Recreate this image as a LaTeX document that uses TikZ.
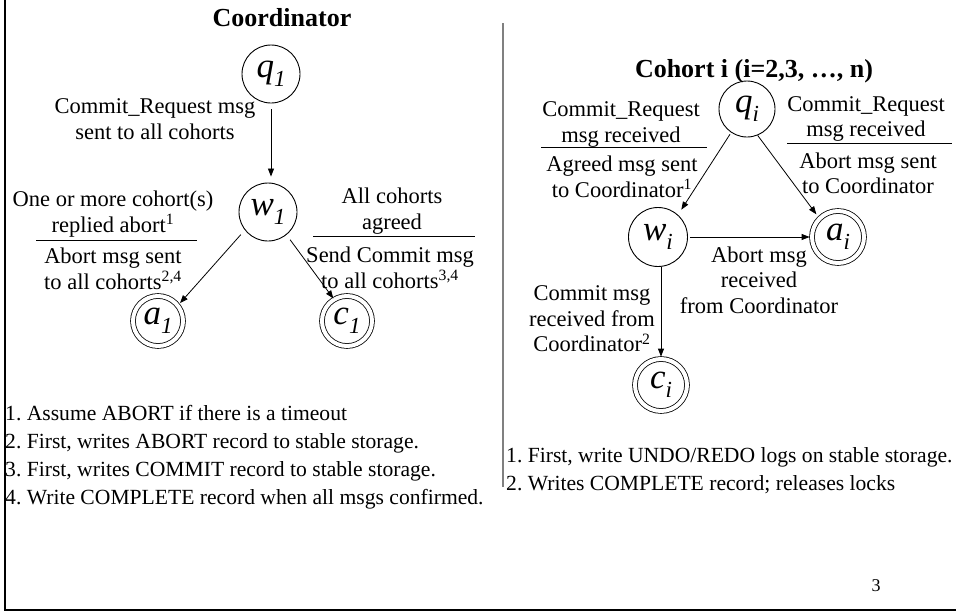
\documentclass[tikz,border=0pt]{standalone}
\usepackage{fontspec}
\setmainfont{Liberation Serif}
\usetikzlibrary{arrows.meta}
\frenchspacing
\newcommand\stn[2]{{\fontsize{35}{35}\selectfont\itshape #1\raisebox{-9pt}{\fontsize{23}{23}\selectfont #2}}}
\begin{document}
\begin{tikzpicture}[x=1pt,y=-1pt,
  state/.style={circle,draw,line width=0.9pt,inner sep=0pt,minimum size=58pt},
  final/.style={circle,draw,line width=0.8pt,double,double distance=4pt,inner sep=0pt,minimum size=#1},
  final/.default=50pt,
  lbl/.style={align=center,font=\fontsize{22.5}{25.5}\selectfont,inner sep=0pt},
  note/.style={align=left,anchor=west,font=\fontsize{21.6}{28}\selectfont,inner sep=0pt},
  ttl/.style={font=\fontsize{26}{30}\selectfont\bfseries,inner sep=0pt},
  arr/.style={-{Triangle[length=8pt,width=6pt]},line width=0.8pt},
  rul/.style={line width=0.9pt}]
\useasboundingbox (0,0) rectangle (956,611);
\fill[white] (0,0) rectangle (956,611);
% frame and divider
\draw[line width=2pt] (4.5,0) -- (4.5,609.5) -- (956,609.5);
\draw[line width=2pt,color={rgb,255:red,128;green,128;blue,128}] (503,23) -- (503,487);

% ---------- Coordinator ----------
\node[ttl] (t1) at (282,18) {Coordinator};
\node[state] (q1) at (271,74) {\stn{q}{1}};
\node[state] (w1) at (268,212) {\stn{w}{1}};
\node[final] (a1) at (158,321) {\stn{a}{1}};
\node[final] (c1) at (347,321) {\stn{c}{1}};

\draw[arr,shorten <=6pt,shorten >=6pt] (q1.south) -- (q1.south |- w1.north);
\draw[arr,shorten <=6pt,shorten >=3pt] (w1.218) -- (a1.38);
\draw[arr,shorten <=6pt,shorten >=1pt] (w1.309) -- (c1.121);

\node[lbl] (l1) at (155,119) {Commit\_Request msg\\sent to all cohorts};
\node[lbl] (l2a) at (113,214) {One or more cohort(s)\\replied abort\textsuperscript{1}};
\draw[rul] (36,240) -- (197,240);
\node[lbl] (l2b) at (113,269) {Abort msg sent\\to all cohorts\textsuperscript{2,4}};
\node[lbl] (l3a) at (392,211) {All cohorts\\agreed};
\draw[rul] (313,236) -- (475,236);
\node[lbl] (l3b) at (390,268) {Send Commit msg\\to all cohorts\textsuperscript{3,4}};

\node[note] (n1) at (5,457) {1. Assume ABORT if there is a timeout\\2. First, writes ABORT record to stable storage.\\3. First, writes COMMIT record to stable storage.\\4. Write COMPLETE record when all msgs confirmed.};

% ---------- Cohort ----------
\node[ttl] (t2) at (754,71) {Cohort i (i=2,3, …, n)};
\node[state,minimum size=56pt] (qi) at (747,109) {\stn{q}{i}};
\node[state,minimum size=59pt] (wi) at (658,237) {\stn{w}{i}};
\node[final=52pt] (ai) at (838,237) {\stn{a}{i}};
\node[final=52pt] (ci) at (661,385) {\stn{c}{i}};

\draw[arr,shorten <=2pt,shorten >=6pt] (qi.236) -- (wi.48);
\draw[arr,shorten <=0pt,shorten >=5pt] (qi.292) -- (ai.135);
\draw[arr,shorten <=2pt,shorten >=2pt] (wi.east) -- (ai.west);
\draw[arr,shorten <=0pt,shorten >=2pt] (ci.north |- wi.south) -- (ci.north);

\node[lbl] (l4a) at (621,124.5) {Commit\_Request\\msg received};
\draw[rul] (541,147) -- (707,147);
\node[lbl] (l4b) at (622,177) {Agreed msg sent\\to Coordinator\textsuperscript{1}};
\node[lbl] (l5a) at (866,119) {Commit\_Request\\msg received};
\draw[rul] (787,143) -- (952,143);
\node[lbl] (l5b) at (868,173.5) {Abort msg sent\\to Coordinator};
\node[lbl] (l6) at (759,280) {Abort msg\\received\\from Coordinator};
\node[lbl] (l7) at (592,319) {Commit msg\\received from\\Coordinator\textsuperscript{2}};

\node[note] (n2) at (506,471) {1. First, write UNDO/REDO logs on stable storage.\\2. Writes COMPLETE record; releases locks};

\node[font=\fontsize{18}{18}\selectfont,inner sep=0pt] (pg) at (876,586) {3};
\end{tikzpicture}
\end{document}
